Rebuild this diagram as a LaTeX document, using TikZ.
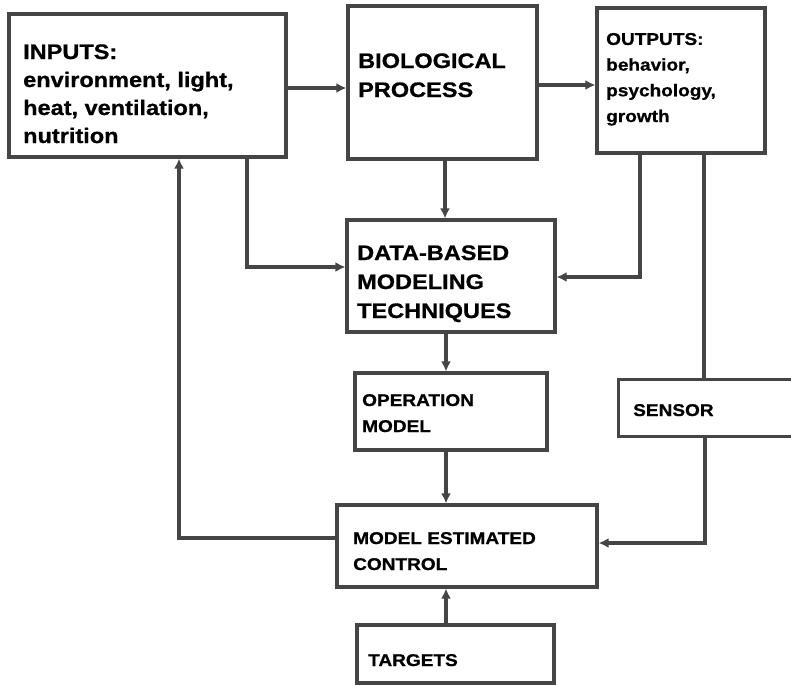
\documentclass[tikz,border=0pt]{standalone}
\usepackage{fontspec}
\setmainfont{Liberation Sans}
\newfontfamily\dfont{Liberation Sans}[FakeStretch=1.12, BoldFeatures={FakeBold=0.8}]
\usetikzlibrary{arrows.meta,calc}
\definecolor{ln}{HTML}{454545}
\begin{document}
\begin{tikzpicture}[x=1pt,y=-1pt,
  box/.style={draw=ln,line width=3.2pt,rectangle,inner sep=0pt},
  openbox/.style={rectangle,inner sep=0pt,outer sep=1.6pt},
  conn/.style={draw=ln,line width=3.2pt},
  arr/.style={conn,-{Latex[length=10pt,width=10pt]}},
  bigtxt/.style={font=\dfont\bfseries\fontsize{21}{28}\selectfont, align=left, anchor=base west, inner sep=0pt},
  bigtxtb/.style={font=\dfont\bfseries\fontsize{21}{29}\selectfont, align=left, anchor=base west, inner sep=0pt},
  smalltxt/.style={font=\dfont\bfseries\fontsize{17}{26}\selectfont, align=left, anchor=base west, inner sep=0pt},
  smalltxto/.style={font=\dfont\bfseries\fontsize{17}{25.7}\selectfont, align=left, anchor=base west, inner sep=0pt}]
\useasboundingbox (0,0) rectangle (791,685);
\fill[white] (0,0) rectangle (791,685);

% boxes
\node[box, minimum width=277pt, minimum height=143pt] (inputs) at (147.5,85.5) {};
\node[box, minimum width=189pt, minimum height=153pt] (bio) at (442.5,82.5) {};
\node[box, minimum width=168pt, minimum height=145pt] (outputs) at (681,80.5) {};
\node[box, minimum width=208pt, minimum height=112pt] (data) at (451,276) {};
\node[box, minimum width=192pt, minimum height=77pt] (oper) at (451,411.5) {};
\node[box, minimum width=260pt, minimum height=82pt] (mec) at (467,546) {};
\node[box, minimum width=197pt, minimum height=58pt] (targets) at (455.5,654) {};
\node[openbox, minimum width=176pt, minimum height=54pt] (sensor) at (708,408) {};
\draw[conn] (sensor.north east) -- (sensor.north west) -- (sensor.south west) -- (sensor.south east);

% texts (anchor = baseline of last line)
\node[bigtxt] (inputs-t) at (23,143) {INPUTS:\\environment, light,\\heat, ventilation,\\nutrition};
\node[bigtxtb] (bio-t) at (358,97) {BIOLOGICAL\\PROCESS};
\node[smalltxto] (outputs-t) at (606,122) {OUTPUTS:\\behavior,\\psychology,\\growth};
\node[bigtxtb] (data-t) at (357,318) {DATA-BASED\\MODELING\\TECHNIQUES};
\node[smalltxt] (oper-t) at (362,432) {OPERATION\\MODEL};
\node[smalltxt] (mec-t) at (353,570) {MODEL ESTIMATED\\CONTROL};
\node[smalltxt] (sensor-t) at (633,416) {SENSOR};
\node[smalltxt] (targets-t) at (368,666) {TARGETS};

% connectors
\draw[arr] (inputs.east |- 0,88) -- (bio.west |- 0,88);
\draw[arr] (bio.east |- 0,85) -- (outputs.west |- 0,85);
\draw[arr] (bio.south -| 445,0) -- (data.north -| 445,0);
\draw[arr] (inputs.south -| 247,0) |- (data.west |- 0,267);
\draw[arr] (outputs.south -| 640,0) |- (data.east |- 0,277);
\draw[conn] (outputs.south -| 704,0) -- (sensor.north -| 704,0);
\draw[arr] (sensor.south -| 705,0) |- (mec.east |- 0,543);
\draw[arr] (data.south -| 446,0) -- (oper.north -| 446,0);
\draw[arr] (oper.south -| 446,0) -- (mec.north -| 446,0);
\draw[arr] (mec.west |- 0,538) -| (inputs.south -| 179,0);
\draw[arr] (targets.north -| 446,0) -- (mec.south -| 446,0);
\end{tikzpicture}
\end{document}
